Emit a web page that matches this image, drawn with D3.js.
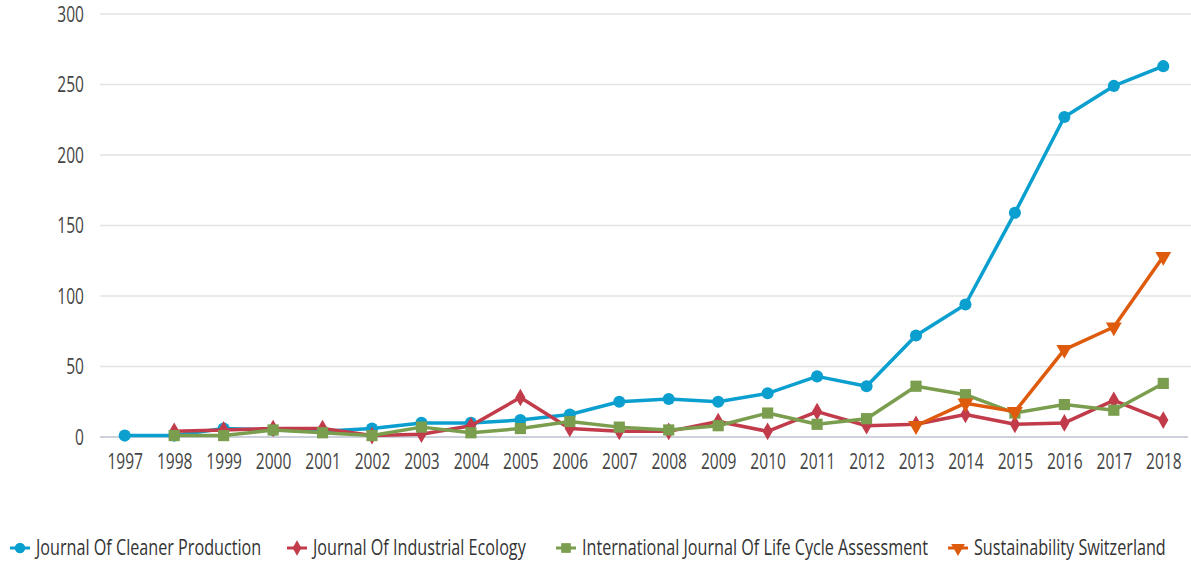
<!DOCTYPE html>
<html lang="en">
<head>
<meta charset="utf-8">
<title>Documents per year by source</title>
<script src="https://d3js.org/d3.v7.min.js"></script>
<style>
  body { margin: 0; background: #fff; }
  text { font-family: "Open Sans", "Noto Sans", sans-serif; }
  .grid line { stroke: #e3e3e3; stroke-width: 1.5; }
  .baseline { stroke: #ccd1dc; stroke-width: 2; }
  .series path.line { fill: none; stroke-width: 3.5; stroke-linejoin: round; }
</style>
</head>
<body>
<script>
var years = ["1997","1998","1999","2000","2001","2002","2003","2004","2005","2006","2007",
             "2008","2009","2010","2011","2012","2013","2014","2015","2016","2017","2018"];
var yTicks = [0, 50, 100, 150, 200, 250, 300];

var cleanerProduction   = [1, 1, 6, 5, 4, 6, 10, 10, 12, 16, 25, 27, 25, 31, 43, 36, 72, 94, 159, 227, 249, 263];
var industrialEcology   = [null, 4, 5, 6, 6, 1, 2, 8, 28, 6, 4, 4, 11, 4, 18, 8, 9, 16, 9, 10, 26, 12];
var lifeCycleAssessment = [null, 1, 1, 5, 3, 1, 7, 3, 6, 11, 7, 5, 8, 17, 9, 13, 36, 30, 17, 23, 19, 38];
var sustainability      = [null, null, null, null, null, null, null, null, null, null, null,
                           null, null, null, null, null, 8, 24, 18, 62, 78, 128];

var seriesNames  = ["Journal Of Cleaner Production", "Journal Of Industrial Ecology",
                    "International Journal Of Life Cycle Assessment", "Sustainability Switzerland"];
var seriesColors = ["#0a9fcf", "#c13b4a", "#7a9e4e", "#de5a0c"];

var series = [
  { name: seriesNames[0], color: seriesColors[0], values: cleanerProduction,   symbol: d3.symbolCircle,   size: 115, rotate: 0 },
  { name: seriesNames[1], color: seriesColors[1], values: industrialEcology,   symbol: d3.symbolDiamond,  size: 90,  rotate: 0 },
  { name: seriesNames[2], color: seriesColors[2], values: lifeCycleAssessment, symbol: d3.symbolSquare,   size: 125, rotate: 0 },
  { name: seriesNames[3], color: seriesColors[3], values: sustainability,      symbol: d3.symbolTriangle, size: 110, rotate: 180 }
];

// the source font is tall and narrow, so squeeze the text sideways
var squeeze = "scale(0.74,1)";
var squeezeLegend = "scale(0.77,1)";

var width = 1191, height = 561;
var svg = d3.select("body").append("svg")
    .attr("width", width)
    .attr("height", height);

var x = d3.scalePoint().domain(years).range([100, 1188]).padding(0.5);
var y = d3.scaleLinear().domain([0, 300]).range([437, 14]);

// grid
svg.append("g").attr("class", "grid")
  .selectAll("line")
  .data(yTicks.filter(function(d) { return d > 0; }))
  .enter().append("line")
    .attr("x1", 100).attr("x2", 1191)
    .attr("y1", function(d) { return y(d); })
    .attr("y2", function(d) { return y(d); });

svg.append("line").attr("class", "baseline")
    .attr("x1", 100).attr("x2", 1188)
    .attr("y1", y(0)).attr("y2", y(0));

// y axis labels
var yAxis = svg.append("g")
    .attr("transform", "translate(84,0)")
    .call(d3.axisLeft(y).tickValues(yTicks).tickSize(0).tickPadding(0));
yAxis.select(".domain").remove();
yAxis.selectAll("text")
    .attr("fill", "#444")
    .style("font-size", "21px")
    .attr("dy", "0.35em")
    .attr("transform", squeeze);

// x axis labels
var xAxis = svg.append("g")
    .attr("transform", "translate(0," + y(0) + ")")
    .call(d3.axisBottom(x).tickSize(0).tickPadding(17));
xAxis.select(".domain").remove();
xAxis.selectAll("text")
    .attr("fill", "#444")
    .style("font-size", "21px")
    .attr("transform", squeeze);

// series
var line = d3.line()
    .defined(function(d) { return d != null; })
    .x(function(d, i) { return x(years[i]); })
    .y(function(d) { return y(d); });

var g = svg.selectAll("g.series")
  .data(series)
  .enter().append("g")
    .attr("class", "series");

g.append("path")
    .attr("class", "line")
    .attr("stroke", function(d) { return d.color; })
    .attr("d", function(d) { return line(d.values); });

g.each(function(s) {
  var sym = d3.symbol().type(s.symbol).size(s.size);
  d3.select(this).selectAll("path.pt")
    .data(s.values.map(function(v, i) { return { v: v, year: years[i] }; })
                  .filter(function(d) { return d.v != null; }))
    .enter().append("path")
      .attr("class", "pt")
      .attr("fill", s.color)
      .attr("d", sym())
      .attr("transform", function(d) {
        return "translate(" + x(d.year) + "," + y(d.v) + ") rotate(" + s.rotate + ")";
      });
});

// legend
var legendX = [20, 297, 566, 958];
var legend = svg.selectAll("g.legend")
  .data(series)
  .enter().append("g")
    .attr("class", "legend")
    .attr("transform", function(d, i) { return "translate(" + legendX[i] + ",548)"; });

legend.append("line")
    .attr("x1", -10).attr("x2", 10)
    .attr("stroke", function(d) { return d.color; })
    .attr("stroke-width", 3);

legend.append("path")
    .attr("fill", function(d) { return d.color; })
    .attr("d", function(d) { return d3.symbol().type(d.symbol).size(d.size * 0.75)(); })
    .attr("transform", function(d) { return "rotate(" + d.rotate + ")"; });

legend.append("g")
    .attr("transform", "translate(16,0)")
  .append("text")
    .attr("dy", "0.35em")
    .attr("fill", "#333")
    .style("font-size", "21px")
    .attr("transform", squeezeLegend)
    .text(function(d) { return d.name; });
</script>
</body>
</html>
